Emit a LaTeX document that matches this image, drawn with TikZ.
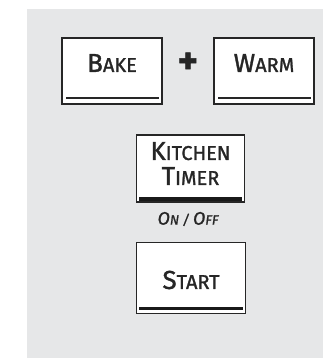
\documentclass[tikz,border=0pt]{standalone}
\usepackage{fontspec}
\setmainfont{Fira Sans}[FakeBold=1.3]
\usetikzlibrary{calc,positioning}
\definecolor{panelgray}{RGB}{230,231,232}
\definecolor{keyline}{RGB}{38,38,38}
\newcommand{\bigsc}[2]{{\fontsize{26}{30}\selectfont #1}#2}
\newcommand{\smallsc}[2]{{\fontsize{18}{20}\selectfont #1}#2}

\begin{document}
\begin{tikzpicture}[x=1pt,y=-1pt,
    key/.style={draw=keyline,line width=1.6pt,fill=white,inner sep=0pt,
      minimum width=100pt,minimum height=66pt},
    keytext/.style={text=keyline,inner sep=0pt,align=center,
      font=\fontsize{20}{25}\selectfont},
    thinbar/.style={keyline,line width=2.2pt},
    thickbar/.style={black!90,line width=3.6pt}]
    \useasboundingbox (0,0) rectangle (323,358);
    \fill[panelgray] (27,9) rectangle (323,358);
    % top row
    \node[key] (bake) at (112,71) {};
    \node[key] (warm) at (264,71) {};
    \node[keytext] (bakelbl) at ([yshift=8pt]bake.center) {\bigsc{B}{AKE}};
    \node[keytext] (warmlbl) at ([yshift=8pt]warm.center) {\bigsc{W}{ARM}};
    \node[keytext,font=\fontsize{38}{38}\selectfont\bfseries] (plus) at (188,63) {+};
    \draw[thinbar] ($(bake.south west)+(5,-7)$) -- ($(bake.south east)+(-4,-7)$);
    \draw[thinbar] ($(warm.south west)+(5,-7)$) -- ($(warm.south east)+(-4,-7)$);
    % kitchen timer
    \node[key,minimum width=108pt,minimum height=67pt] (timer) at (190.5,168.5) {};
    \node[keytext] (timerlbl) at ([yshift=5pt]timer.center)
      {\bigsc{K}{ITCHEN}\\\bigsc{T}{IMER}};
    \draw[thickbar] ($(timer.south west)+(3.5,-4)$) -- ($(timer.south east)+(-3,-4)$);
    \node[keytext,font=\fontsize{13.5}{16}\selectfont\itshape] (onoff) at (188,219)
      {\smallsc{O}{N} / \smallsc{O}{FF}};
    % start
    \node[key,minimum width=109pt,minimum height=71pt] (start) at (191,278) {};
    \node[keytext] (startlbl) at (191,280) {\bigsc{S}{TART}};
    \draw[thickbar] ($(start.south west)+(3.5,-6)$) -- ($(start.south east)+(-3.5,-6)$);
\end{tikzpicture}
\end{document}
